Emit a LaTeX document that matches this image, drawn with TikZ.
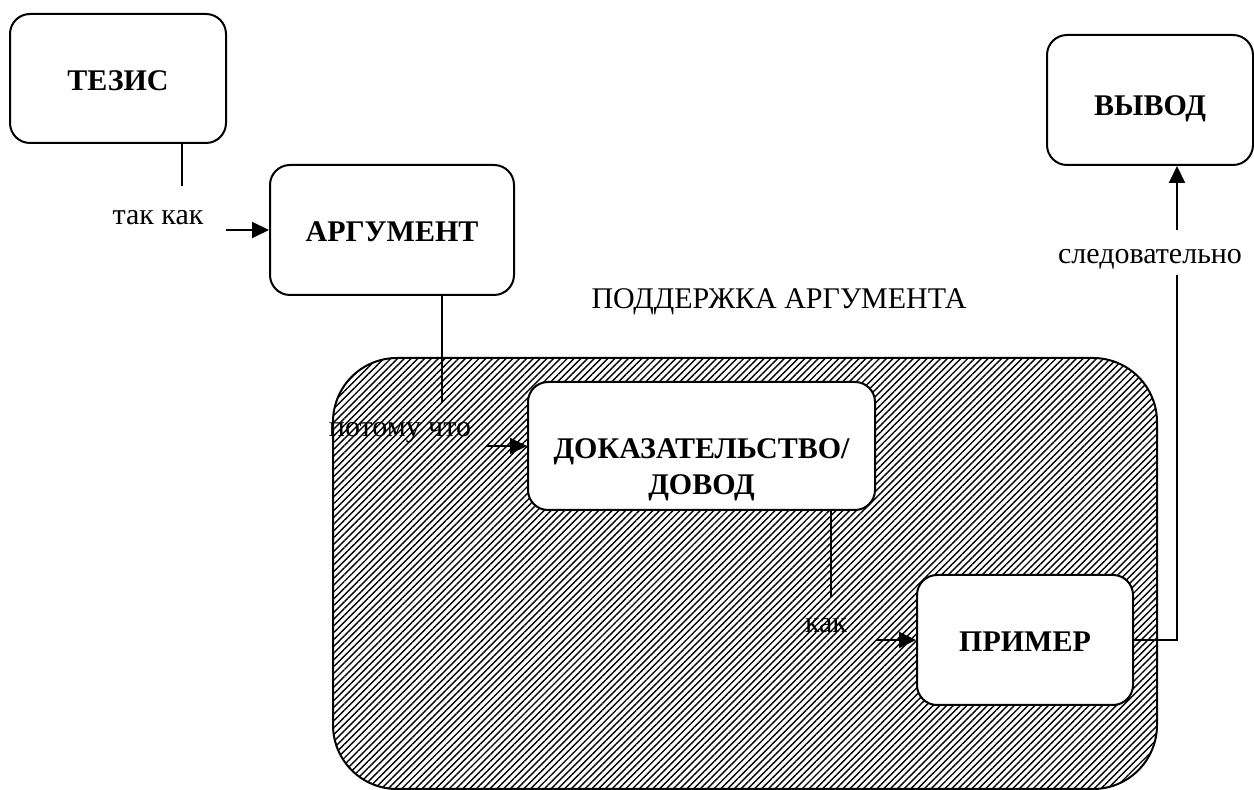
\documentclass[tikz,border=0pt]{standalone}
\usepackage{fontspec}
\setmainfont{Liberation Serif}
\usetikzlibrary{arrows.meta,patterns.meta}
\tikzset{
  blk/.style ={draw=black,fill=white,rounded corners=10pt,line width=1pt,
               inner sep=0pt,align=center,font=\fontsize{15}{18}\selectfont\bfseries},
  grp/.style ={draw=black,line width=1pt,rounded corners=32pt,
               pattern={Lines[angle=45,distance=2.4pt,line width=0.7pt]}},
  lbl/.style ={font=\fontsize{15}{18}\selectfont,inner sep=1pt},
  sig/.style ={-{Triangle[length=8.5pt,width=8pt]},line width=1pt},
  bus/.style ={line width=1pt},
}

\begin{document}
\begin{tikzpicture}[x=0.5pt, y=-0.5pt]
\useasboundingbox (0,0) rectangle (1254,790);

% the shaded region first, so that the lines run over it
\node[grp,minimum width=412pt,minimum height=215.5pt] (support) at (745,573.5) {};
\node[lbl] (supportlbl) at (779,302) {ПОДДЕРЖКА АРГУМЕНТА};

\node[blk,minimum width=108pt,minimum height=64.5pt,text height=12pt,text depth=0pt]
  (tezis) at (118,78.5) {ТЕЗИС};
\node[blk,minimum width=122pt,minimum height=65pt,text height=12pt,text depth=0pt]
  (arg) at (392,230) {АРГУМЕНТ};
\node[blk,minimum width=103pt,minimum height=65pt,text height=19pt,text depth=3pt]
  (vyvod) at (1150,100) {ВЫВОД};
% text sits low in this box, as in the sketch
\node[blk,minimum width=173.5pt,minimum height=64pt,text height=54pt,text depth=5.4pt]
  (dok) at (701.5,446)
  {\begin{tabular}[b]{@{}c@{}}ДОКАЗАТЕЛЬСТВО/\\ДОВОД\end{tabular}};
\node[blk,minimum width=108pt,minimum height=65pt,text height=12pt,text depth=0pt]
  (primer) at (1025,640) {ПРИМЕР};

% link labels
\node[lbl] (takkak) at (158,218) {так как};
\node[lbl] (potomu) at (400,433) {потому что};
\node[lbl] (kak)    at (826,626) {как};
\node[lbl] (sled)   at (1150,259) {следовательно};

% free ends of the connectors
\coordinate (t1) at (182,186);
\coordinate (a1) at (226,230);
\coordinate (t2) at (442,403);
\coordinate (a2) at (486,446);
\coordinate (t3) at (831,597);
\coordinate (a3) at (876,640);
\coordinate (s1) at (1177,275);
\coordinate (s2) at (1177,230);

\draw[bus] (t1 |- tezis.south) -- (t1);
\draw[sig] (a1) -- (a1 -| arg.west);
\draw[bus] (t2 |- arg.south) -- (t2);
\draw[sig] (a2) -- (a2 -| dok.west);
\draw[bus] (t3 |- dok.south) -- (t3);
\draw[sig] (a3) -- (a3 -| primer.west);
% out of the example and up to the conclusion, broken by its label
\draw[bus] (primer.east) -| (s1);
\draw[sig] (s2) -- (s2 |- vyvod.south);
\end{tikzpicture}
\end{document}
